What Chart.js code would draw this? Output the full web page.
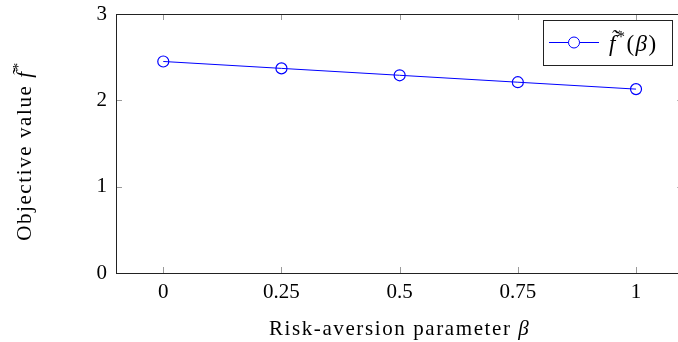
<!DOCTYPE html>
<html>
<head>
<meta charset="utf-8">
<script src="https://cdn.jsdelivr.net/npm/chart.js@4"></script>
<style>
  html, body { margin: 0; padding: 0; background: #fff; overflow: hidden; }
  #wrap { width: 690px; height: 342px; }
</style>
</head>
<body>
<div id="wrap"><canvas id="chart" width="690" height="342"></canvas></div>
<script>
// data
const betaValues = [0, 0.25, 0.5, 0.75, 1];
const objectiveValues = [2.45, 2.37, 2.29, 2.21, 2.13];
const xTickValues = [0, 0.25, 0.5, 0.75, 1];
const yTickValues = [0, 1, 2, 3];

const serif = '"Liberation Serif", "DejaVu Serif", serif';
const tickSize = 21;
const titleSize = 21;

// text runs: normal / italic / superscript
function setRunFont(ctx, r, size) {
    ctx.font = (r.italic ? 'italic ' : '') + (r.sup ? Math.round(size * 0.7) : size) + 'px ' + serif;
}
function runsWidth(ctx, runs, size) {
    let w = 0;
    runs.forEach(r => { setRunFont(ctx, r, size); w += ctx.measureText(r.text).width; });
    return w;
}
function drawRuns(ctx, runs, x, y, size) {
    runs.forEach(r => {
        setRunFont(ctx, r, size);
        ctx.fillText(r.text, x, r.sup ? y - size * 0.38 : y);
        x += ctx.measureText(r.text).width;
    });
}

const xTitle = [{ text: 'Risk-aversion parameter ' }, { text: '\u03B2', italic: true }];
const yTitle = [{ text: 'Objective value ' }, { text: 'f\u0303', italic: true }, { text: '*', sup: true }];
const legendLabel = [
    { text: 'f\u0303', italic: true }, { text: '*', sup: true },
    { text: '(' }, { text: '\u03B2', italic: true }, { text: ')' }
];

const framePlugin = {
    id: 'frame',
    afterDraw(chart) {
        const ctx = chart.ctx;
        const a = chart.chartArea;
        const xs = chart.scales.x, ys = chart.scales.y;
        ctx.save();
        // inward tick marks on all four sides
        ctx.strokeStyle = '#9a9a9a';
        ctx.lineWidth = 1;
        ctx.beginPath();
        xTickValues.forEach(v => {
            const px = Math.round(xs.getPixelForValue(v)) + 0.5;
            ctx.moveTo(px, a.bottom); ctx.lineTo(px, a.bottom - 6);
            ctx.moveTo(px, a.top); ctx.lineTo(px, a.top + 6);
        });
        yTickValues.forEach(v => {
            const py = Math.round(ys.getPixelForValue(v)) + 0.5;
            ctx.moveTo(a.left, py); ctx.lineTo(a.left + 6, py);
            ctx.moveTo(a.right, py); ctx.lineTo(a.right - 6, py);
        });
        ctx.stroke();
        // box
        ctx.strokeStyle = '#222';
        ctx.strokeRect(Math.round(a.left) + 0.5, Math.round(a.top) + 0.5,
            Math.round(a.right - a.left), Math.round(a.bottom - a.top));

        // axis titles
        ctx.fillStyle = '#000';
        ctx.textBaseline = 'alphabetic';
        ctx.textAlign = 'left';
        ctx.letterSpacing = '1.6px';
        const cx = (a.left + a.right) / 2;
        drawRuns(ctx, xTitle, cx - runsWidth(ctx, xTitle, titleSize) / 2, 335, titleSize);
        ctx.translate(31, 151);
        ctx.rotate(-Math.PI / 2);
        drawRuns(ctx, yTitle, -runsWidth(ctx, yTitle, titleSize) / 2, 0, titleSize);
        ctx.restore();

        // legend box
        ctx.save();
        const lx = 543, ly = 20, lw = 129, lh = 45;
        ctx.fillStyle = '#fff';
        ctx.fillRect(lx, ly, lw, lh);
        ctx.strokeStyle = '#222';
        ctx.lineWidth = 1;
        ctx.strokeRect(lx + 0.5, ly + 0.5, lw, lh);
        const my = ly + lh / 2;
        ctx.strokeStyle = '#0000ff';
        ctx.beginPath();
        ctx.moveTo(lx + 6, my); ctx.lineTo(lx + 56, my);
        ctx.stroke();
        ctx.fillStyle = '#fff';
        ctx.beginPath();
        ctx.arc(lx + 31, my, 5.5, 0, Math.PI * 2);
        ctx.fill(); ctx.stroke();
        ctx.fillStyle = '#000';
        ctx.textBaseline = 'alphabetic';
        ctx.letterSpacing = '1.5px';
        drawRuns(ctx, legendLabel, lx + 66, my + 8, 23);
        ctx.restore();
    }
};

const ctx = document.getElementById('chart').getContext('2d');
new Chart(ctx, {
    type: 'scatter',
    data: {
        datasets: [{
            label: 'f\u0303*(\u03B2)',
            data: betaValues.map((b, i) => ({ x: b, y: objectiveValues[i] })),
            showLine: true,
            borderColor: '#0000ff',
            borderWidth: 1,
            pointRadius: 5.5,
            pointBorderWidth: 1.2,
            pointBackgroundColor: 'rgba(255,255,255,0)',
            pointBorderColor: '#0000ff',
            fill: false
        }]
    },
    options: {
        responsive: false,
        animation: false,
        layout: { padding: { top: 14, right: 6, left: 0, bottom: 0 } },
        plugins: {
            legend: { display: false },
            tooltip: { enabled: false }
        },
        scales: {
            x: {
                type: 'linear',
                min: -0.1,
                max: 1.1,
                afterBuildTicks: scale => { scale.ticks = xTickValues.map(v => ({ value: v })); },
                afterFit: scale => {
                    scale.height = 69;
                    scale.paddingLeft = 0;
                    scale.paddingRight = 0;
                },
                grid: { display: false, drawTicks: false },
                border: { display: false },
                ticks: {
                    color: '#000',
                    padding: 7,
                    maxRotation: 0,
                    font: { family: serif, size: tickSize },
                    callback: v => String(v)
                }
            },
            y: {
                min: 0,
                max: 3,
                afterBuildTicks: scale => { scale.ticks = yTickValues.map(v => ({ value: v })); },
                afterFit: scale => {
                    scale.width = 116;
                    scale.paddingTop = 0;
                    scale.paddingBottom = 0;
                },
                grid: { display: false, drawTicks: false },
                border: { display: false },
                ticks: {
                    color: '#000',
                    padding: 9,
                    font: { family: serif, size: tickSize },
                    callback: v => String(v)
                }
            }
        }
    },
    plugins: [framePlugin]
});
</script>
</body>
</html>
